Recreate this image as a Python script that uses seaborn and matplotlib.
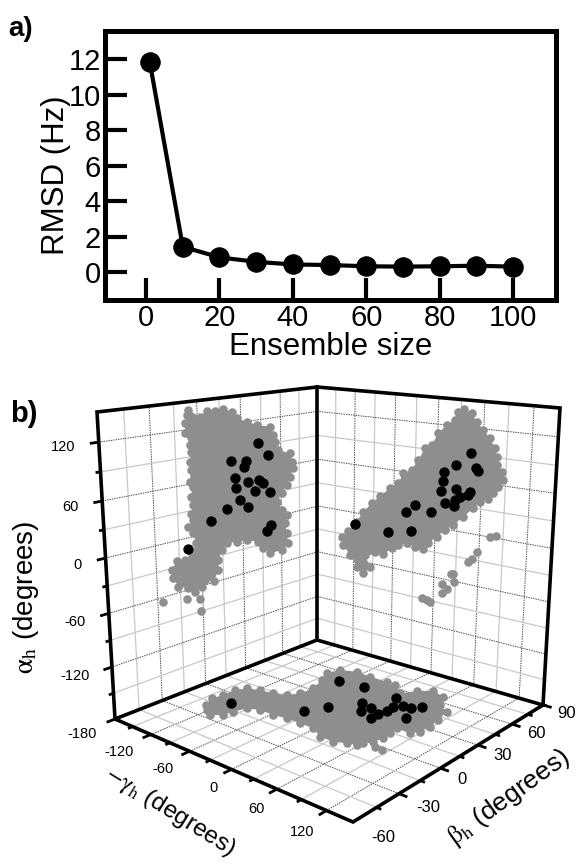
import numpy as np
import seaborn as sns
import matplotlib.pyplot as plt

sns.set_theme(style="white")
plt.rcParams["font.family"] = ["Liberation Sans", "DejaVu Sans"]
plt.rcParams["mathtext.fontset"] = "stix"

# %% panel a values
ensemble_size = [1, 10, 20, 30, 40, 50, 60, 70, 80, 90, 100]
rmsd = [11.85, 1.45, 0.85, 0.6, 0.45, 0.42, 0.35, 0.33, 0.35, 0.38, 0.33]
a_xticks = [0, 20, 40, 60, 80, 100]
a_yticks = [0, 2, 4, 6, 8, 10, 12]

# %% panel b ticks
alpha_labels = [120, 60, 0, -60, -120, -180]
gamma_labels = [-120, -60, 0, 60, 120]
beta_labels = [-60, -30, 0, 30, 60, 90]

# %% panel b points, read off the 3x crops (crop px, projected on each wall)
# left wall, crop origin (90, 370)
left_edge_x = [295, 330, 350, 375, 400, 425, 440, 470, 500, 540, 548, 555, 565, 600, 605, 610, 600, 590, 575, 562,
               575, 590, 585, 590, 595, 575, 540, 520, 505, 470, 440, 410, 395, 385, 385, 372, 345, 335, 315, 295,
               265, 250, 245, 262, 285, 305, 318, 310, 295, 310, 302, 310, 303, 308, 300, 302, 300, 302, 300, 285,
               285, 292]
left_edge_y = [120, 140, 122, 122, 117, 125, 145, 155, 165, 170, 195, 215, 240, 250, 275, 295, 320, 345, 370, 395,
               420, 435, 460, 490, 520, 540, 550, 535, 515, 510, 515, 520, 540, 570, 600, 632, 630, 650, 665, 655,
               650, 625, 600, 572, 570, 555, 520, 490, 470, 450, 432, 405, 380, 350, 335, 300, 275, 245, 225, 190,
               160, 135]
left_stray_x = [219, 291, 331, 333]
left_stray_y = [697, 687, 688, 722]
left_black_x = [505, 534, 422, 468, 462, 435, 473, 508, 520, 439, 495, 540, 451, 412, 475, 364, 542, 532, 294]
left_black_y = [220, 255, 274, 273, 292, 325, 335, 329, 340, 354, 363, 365, 391, 417, 412, 453, 464, 484, 538]

# right wall, crop origin (310, 370)
right_edge_x = [462, 485, 500, 520, 540, 555, 562, 560, 575, 580, 565, 550, 535, 510, 490, 460, 430, 405, 380, 355,
                340, 315, 290, 265, 245, 220, 195, 180, 165, 180, 160, 140, 120, 100, 95, 115, 140, 160, 185, 210,
                240, 265, 280, 305, 325, 345, 365, 385, 410, 435, 445]
right_edge_y = [118, 130, 155, 180, 205, 235, 262, 285, 305, 330, 350, 370, 388, 395, 415, 440, 465, 480, 500, 520,
                538, 530, 520, 525, 535, 553, 545, 540, 555, 590, 610, 590, 555, 525, 500, 482, 455, 425, 400, 378,
                355, 340, 310, 300, 270, 235, 225, 190, 165, 150, 125]
right_stray_x = [540, 558, 500, 475, 485, 430, 422, 432, 397, 410, 397, 337, 350, 360]
right_stray_y = [502, 497, 545, 575, 568, 612, 612, 635, 642, 658, 670, 685, 690, 695]
right_black_x = [483, 438, 497, 504, 401, 399, 392, 439, 480, 475, 450, 436, 406, 433, 316, 287, 362, 235, 302, 135]
right_black_y = [250, 286, 293, 302, 305, 333, 364, 357, 365, 376, 382, 390, 398, 408, 406, 426, 425, 487, 484, 461]

# floor, crop origin (100, 630)
floor_edge_x = [318, 335, 370, 405, 440, 480, 520, 560, 600, 640, 665, 680, 720, 770, 810, 860, 885, 900, 950, 1000,
                1030, 1020, 1040, 1015, 990, 960, 930, 890, 870, 850, 820, 790, 770, 740, 700, 660, 640, 600, 560,
                520, 480, 440, 400, 370, 330, 320]
floor_edge_y = [225, 205, 195, 180, 175, 180, 190, 195, 190, 175, 150, 130, 120, 125, 140, 155, 165, 190, 183, 183,
                200, 225, 245, 270, 290, 305, 310, 295, 310, 325, 335, 340, 345, 340, 335, 320, 295, 280, 265,
                255, 240, 235, 245, 255, 255, 240]
floor_stray_x = [825, 845]
floor_stray_y = [350, 360]
floor_black_x = [393, 611, 683, 717, 792, 787, 784, 813, 812, 833, 860, 880, 889, 910, 933, 917, 967]
floor_black_y = [218, 242, 231, 154, 171, 218, 244, 235, 264, 252, 242, 232, 203, 228, 235, 265, 231]


# %%
def homography(corners):
    """unit square (0,0) (1,0) (1,1) (0,1) -> the four picture corners"""
    src = [(0, 0), (1, 0), (1, 1), (0, 1)]
    A, b = [], []
    for (u, v), (x, y) in zip(src, corners):
        A.append([u, v, 1, 0, 0, 0, -u * x, -v * x])
        A.append([0, 0, 0, u, v, 1, -u * y, -v * y])
        b += [x, y]
    h = np.linalg.solve(np.array(A, float), np.array(b, float))
    return np.append(h, 1).reshape(3, 3)


def wall(corners, urange, vrange):
    H = homography(corners)

    def project(u, v):
        uu = (u - urange[0]) / (urange[1] - urange[0])
        vv = (v - vrange[0]) / (vrange[1] - vrange[0])
        p = H @ np.array([uu, vv, 1.0])
        return p[:2] / p[2]
    return project


def draw_grid(ax, project, urange, vrange, ustep, vstep):
    for u in np.arange(urange[0], urange[1] + 1, ustep):
        major = (u % 60 == 0) if ustep == 30 and urange[1] == 150 else (u % 30 == 0)
        if major:
            kw = dict(color="#505050", lw=0.7, ls=(0, (1.5, 1)))
        else:
            kw = dict(color="#c8c8c8", lw=0.9, ls="-")
        p, q = project(u, vrange[0]), project(u, vrange[1])
        ax.plot([p[0], q[0]], [p[1], q[1]], zorder=1, **kw)
    for v in np.arange(vrange[0], vrange[1] + 1, vstep):
        major = (v % 60 == 0) if vstep == 30 and vrange[1] == 150 else (v % 30 == 0)
        if major:
            kw = dict(color="#505050", lw=0.7, ls=(0, (1.5, 1)))
        else:
            kw = dict(color="#c8c8c8", lw=0.9, ls="-")
        p, q = project(urange[0], v), project(urange[1], v)
        ax.plot([p[0], q[0]], [p[1], q[1]], zorder=1, **kw)


def draw_cloud(ax, ex, ey, sx, sy, bx, by, x0, y0):
    ex, ey = x0 + np.array(ex) / 3, y0 + np.array(ey) / 3
    sx, sy = x0 + np.array(sx) / 3, y0 + np.array(sy) / 3
    bx, by = x0 + np.array(bx) / 3, y0 + np.array(by) / 3
    ax.fill(ex, ey, color=gray, lw=0, zorder=2)
    sns.scatterplot(x=ex, y=ey, s=38, color=gray, linewidth=0, ax=ax, zorder=2)
    sns.scatterplot(x=sx, y=sy, s=38, color=gray, linewidth=0, ax=ax, zorder=2)
    sns.scatterplot(x=bx, y=by, s=56, color="black", linewidth=0, ax=ax, zorder=3)


def ticks(ax, project, values, inner, along_u, major_step, fixed):
    for t in values:
        if along_u:
            p, q = project(t, fixed), project(t, inner)
        else:
            p, q = project(fixed, t), project(inner, t)
        d = (p - q) / np.linalg.norm(p - q)
        end = p + d * (9 if t % major_step == 0 else 5)
        ax.plot([p[0], end[0]], [p[1], end[1]], color="black", lw=2, zorder=4, solid_capstyle="butt")


# %%
gray = "#8e8e8e"
W, H_px = 577, 865
fig = plt.figure(figsize=(W / 100, H_px / 100), dpi=100)

# %% panel a
ax = fig.add_axes([105 / W, 1 - 300 / H_px, (556 - 105) / W, (300 - 31) / H_px])
sns.lineplot(x=ensemble_size, y=rmsd, color="black", lw=3, marker="o", ms=14, mec="black", ax=ax)
ax.set_xlim(-11.2, 111.7)
ax.set_ylim(-1.55, 13.6)
ax.set_xticks(a_xticks)
ax.set_yticks(a_yticks)
ax.tick_params(direction="in", length=16, width=3, labelsize=21, color="black", labelcolor="black", pad=3,
               left=True, bottom=True)
for s in ax.spines.values():
    s.set_linewidth(3.6)
    s.set_color("black")
ax.set_xlabel("Ensemble size", fontsize=22.5, color="black", labelpad=0)
ax.set_ylabel("RMSD (Hz)", fontsize=22.5, color="black", labelpad=-2, y=0.465)
fig.text(8 / W, 1 - 29 / H_px, "a)", fontsize=20, fontweight="bold", color="black", va="center")

# %% panel b, whole figure axes in picture pixels
ov = fig.add_axes([0, 0, 1, 1], facecolor="none")
ov.set_axis_off()

b_range, g_range, a_range = (-60, 90), (-180, 150), (-180, 150)
left_wall = wall([(115, 719), (317, 640), (317, 387), (97, 412)], b_range, a_range)
right_wall = wall([(317, 640), (543, 705), (560, 408), (317, 387)], g_range, a_range)
floor = wall([(115, 719), (353, 822), (543, 705), (317, 640)], g_range, b_range)

draw_grid(ov, left_wall, b_range, a_range, 15, 30)
draw_grid(ov, right_wall, g_range, a_range, 30, 30)
draw_grid(ov, floor, g_range, b_range, 30, 15)

draw_cloud(ov, left_edge_x, left_edge_y, left_stray_x, left_stray_y, left_black_x, left_black_y, 90, 370)
draw_cloud(ov, right_edge_x, right_edge_y, right_stray_x, right_stray_y, right_black_x, right_black_y, 310, 370)
draw_cloud(ov, floor_edge_x, floor_edge_y, floor_stray_x, floor_stray_y, floor_black_x, floor_black_y, 100, 630)

for pts in ([(115, 719), (97, 412), (317, 387), (560, 408), (543, 705)],
            [(317, 387), (317, 640)],
            [(115, 719), (317, 640), (543, 705), (353, 822), (115, 719)]):
    ov.plot([p[0] for p in pts], [p[1] for p in pts], color="black", lw=2.6, zorder=5,
            solid_joinstyle="miter", solid_capstyle="projecting")

ticks(ov, left_wall, np.arange(-180, 121, 30), 90, False, 60, -60)
ticks(ov, floor, np.arange(-150, 121, 30), 90, True, 60, -60)
ticks(ov, floor, np.arange(-45, 91, 15), -180, False, 30, 150)

alpha_pos = [(63, 447), (70, 507), (78, 565), (75, 622), (75, 676), (82, 734)]
gamma_pos = [(119, 752), (163, 769), (213, 788), (256, 809), (302, 832)]
beta_pos = [(383, 837), (428, 807), (462, 780), (503, 755), (536, 733), (567, 713)]
for lab, (x, y) in zip(alpha_labels, alpha_pos):
    ov.text(x, y, str(lab), fontsize=10.5, color="black", ha="center", va="center")
for lab, (x, y) in zip(gamma_labels, gamma_pos):
    ov.text(x, y, str(lab), fontsize=10.5, color="black", ha="center", va="center")
for lab, (x, y) in zip(beta_labels, beta_pos):
    ov.text(x, y, str(lab), fontsize=12, color="black", ha="center", va="center")

ov.text(26, 597, r"$\mathrm{\alpha_{h}}$ (degrees)", fontsize=20, color="black", rotation=90,
        ha="center", va="center")
ov.text(170, 811, r"$\mathrm{-\gamma_{h}}$ (degrees)", fontsize=17.5, color="black", rotation=-32,
        ha="center", va="center", rotation_mode="anchor")
ov.text(509, 798, r"$\mathrm{\beta_{h}}$ (degrees)", fontsize=19, color="black", rotation=36,
        ha="center", va="center", rotation_mode="anchor")
ov.text(10, 414, "b)", fontsize=21, fontweight="bold", color="black", va="center")

ov.set_xlim(0, W)
ov.set_ylim(H_px, 0)

fig.savefig("out.png", dpi=100)
